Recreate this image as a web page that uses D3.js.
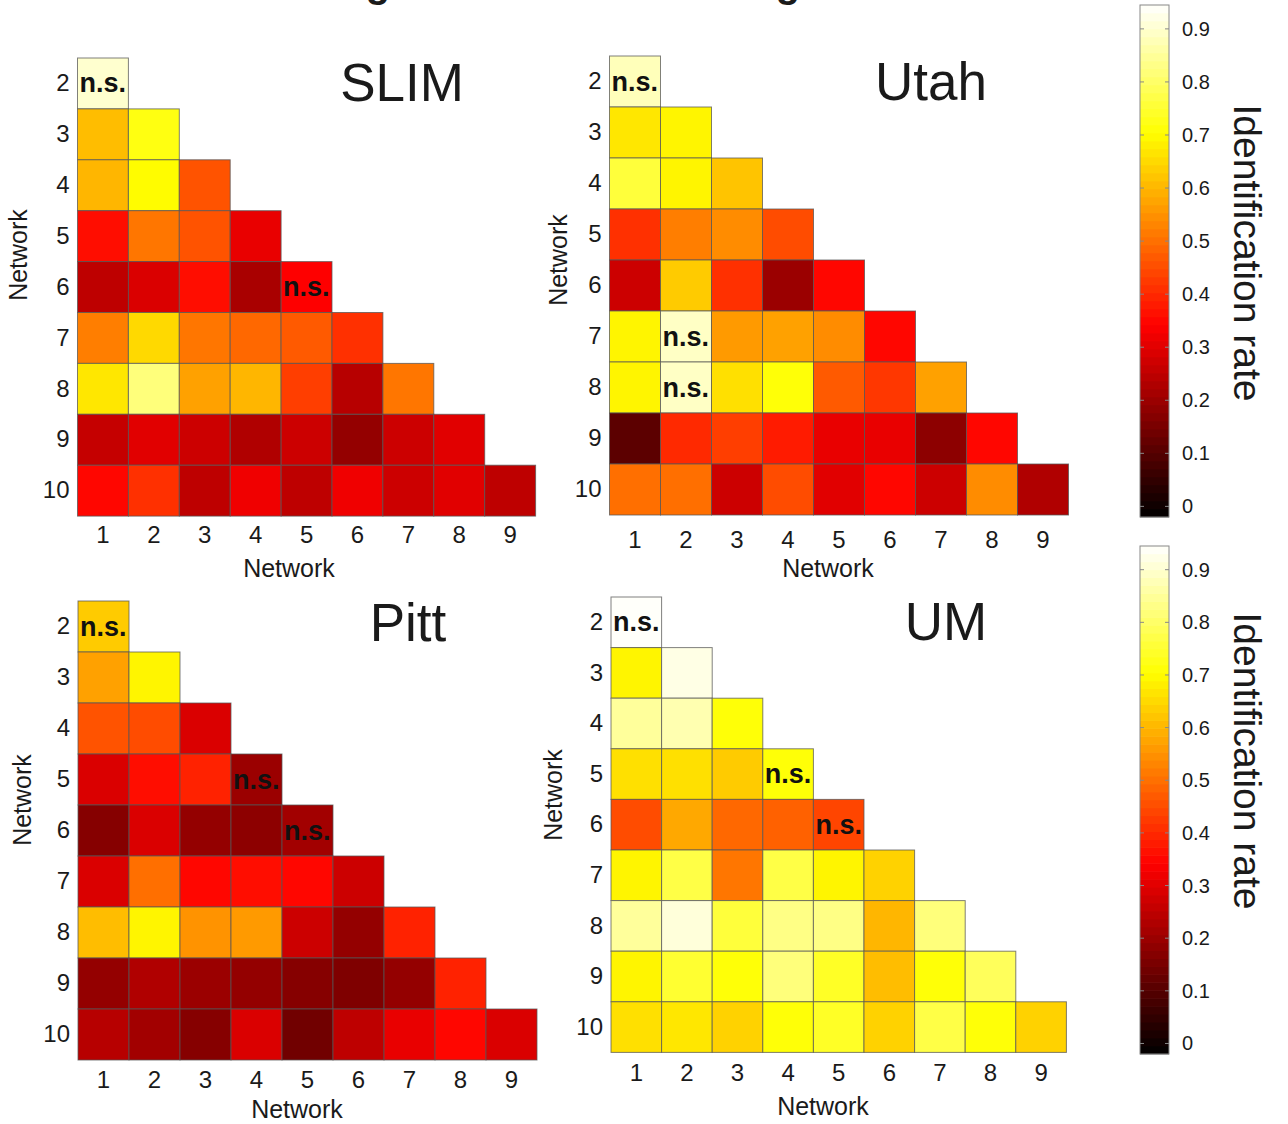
<!DOCTYPE html>
<html>
<head>
<meta charset="utf-8">
<script src="https://cdn.jsdelivr.net/npm/d3@7"></script>
<style>
body{margin:0;background:#fff}
svg text{font-family:"Liberation Sans",Arial,Helvetica,sans-serif;fill:#1a1a1a}
</style>
</head>
<body>
<svg id="chart" width="1288" height="1124"></svg>
<script>
// networks on the axes
const rowNets = [2,3,4,5,6,7,8,9,10]
const colNets = [1,2,3,4,5,6,7,8,9]
const cbTicks = [0,0.1,0.2,0.3,0.4,0.5,0.6,0.7,0.8,0.9]

// identification rate, lower triangle, one array per row (row net 2..10)
const slimVals = [
  [0.90],
  [0.61,0.72],
  [0.60,0.70,0.46],
  [0.36,0.51,0.46,0.31],
  [0.25,0.29,0.36,0.22,0.34],
  [0.52,0.65,0.51,0.49,0.47,0.41],
  [0.67,0.82,0.57,0.60,0.43,0.24,0.51],
  [0.26,0.30,0.27,0.23,0.27,0.19,0.27,0.30],
  [0.35,0.41,0.25,0.32,0.25,0.32,0.27,0.30,0.25]
]
const utahVals = [
  [0.88],
  [0.67,0.69],
  [0.76,0.69,0.62],
  [0.41,0.52,0.54,0.45],
  [0.27,0.63,0.41,0.20,0.35],
  [0.69,0.89,0.56,0.57,0.54,0.35],
  [0.69,0.89,0.66,0.71,0.47,0.42,0.57],
  [0.11,0.40,0.43,0.38,0.31,0.31,0.18,0.35],
  [0.50,0.50,0.27,0.45,0.30,0.35,0.27,0.54,0.23]
]
const pittVals = [
  [0.63],
  [0.57,0.69],
  [0.46,0.45,0.29],
  [0.29,0.36,0.39,0.20],
  [0.17,0.29,0.19,0.18,0.21],
  [0.29,0.50,0.35,0.36,0.35,0.27],
  [0.61,0.69,0.55,0.56,0.27,0.19,0.39],
  [0.19,0.23,0.20,0.19,0.17,0.16,0.19,0.39],
  [0.24,0.21,0.17,0.29,0.14,0.25,0.31,0.35,0.29]
]
const umVals = [
  [0.94],
  [0.69,0.92],
  [0.85,0.87,0.71],
  [0.66,0.66,0.63,0.71],
  [0.45,0.58,0.49,0.48,0.44],
  [0.69,0.77,0.51,0.77,0.69,0.64],
  [0.85,0.91,0.76,0.83,0.83,0.60,0.82],
  [0.69,0.75,0.71,0.82,0.74,0.61,0.71,0.79],
  [0.66,0.67,0.64,0.71,0.74,0.64,0.77,0.71,0.64]
]
// not significant cells [row net, col net]
const slimNs = [[2,1],[6,5]]
const utahNs = [[2,1],[7,2],[8,2]]
const pittNs = [[2,1],[5,4],[6,5]]
const umNs = [[2,1],[5,4],[6,5]]

const panels = [
  {name:"SLIM", vals:slimVals, ns:slimNs, left:77.5, top:58, size:50.9,
   title:[402,101], xlab:[289,577], ylab:[27,255], tickPad:10},
  {name:"Utah", vals:utahVals, ns:utahNs, left:609.5, top:56, size:51,
   title:[931,100], xlab:[828,577], ylab:[567,260], tickPad:16},
  {name:"Pitt", vals:pittVals, ns:pittNs, left:78, top:601, size:51,
   title:[408,641], xlab:[297,1118], ylab:[31,800], tickPad:11},
  {name:"UM", vals:umVals, ns:umNs, left:611, top:597, size:50.6,
   title:[946,640], xlab:[823,1115], ylab:[562,795], tickPad:12}
]

// matlab "hot"
const cmin = -0.02, cmax = 0.945
const hot = d3.scaleLinear()
  .domain([0, 3/8, 3/4, 1].map(t => cmin + t*(cmax-cmin)))
  .range(["#000000","#ff0000","#ffff00","#ffffff"])
  .interpolate(d3.interpolateRgb)
  .clamp(true)

const svg = d3.select("#chart")

// cut-off headline at the very top
svg.selectAll(".cut").data([378,788]).enter().append("text")
  .attr("x", d => d).attr("y", -3).attr("text-anchor","middle")
  .style("font-size","40px").style("font-weight","bold").text("g")

panels.forEach(function(p){
  var x = d3.scaleBand().domain(colNets).range([p.left, p.left + 9*p.size])
  var y = d3.scaleBand().domain(rowNets).range([p.top, p.top + 9*p.size])
  var cells = []
  p.vals.forEach(function(row, i){
    row.forEach(function(v, j){ cells.push({r: rowNets[i], c: colNets[j], v: v}) })
  })
  var g = svg.append("g")
  g.selectAll("rect").data(cells).enter().append("rect")
    .attr("x", d => x(d.c)).attr("y", d => y(d.r))
    .attr("width", x.bandwidth()).attr("height", y.bandwidth())
    .attr("fill", d => hot(d.v))
    .attr("stroke", "#555").attr("stroke-opacity", 0.75).attr("stroke-width", 1)

  g.selectAll(".ns").data(p.ns).enter().append("text")
    .attr("x", d => x(d[1]) + 2).attr("y", d => y(d[0]) + y.bandwidth()/2 + 9)
    .style("font-size","27px").style("font-weight","bold").style("fill","#111")
    .text("n.s.")

  // axes
  var ax = g.append("g").attr("transform", "translate(0," + (p.top + 9*p.size) + ")")
    .call(d3.axisBottom(x).tickSize(0).tickPadding(p.tickPad))
  var ay = g.append("g").attr("transform", "translate(" + p.left + ",0)")
    .call(d3.axisLeft(y).tickSize(0).tickPadding(8))
  ;[ax, ay].forEach(function(a){
    a.select(".domain").remove()
    a.selectAll("text").style("font-size","24px").style("fill","#1a1a1a")
      .attr("font-family", null)
  })

  g.append("text").attr("x", p.title[0]).attr("y", p.title[1])
    .attr("text-anchor","middle").style("font-size","53px").text(p.name)
  g.append("text").attr("x", p.xlab[0]).attr("y", p.xlab[1])
    .attr("text-anchor","middle").style("font-size","25px").text("Network")
  g.append("text")
    .attr("transform", "translate(" + p.ylab[0] + "," + p.ylab[1] + ") rotate(-90)")
    .attr("text-anchor","middle").style("font-size","25px").text("Network")
})

// colour bars
;[{top:5, bottom:517, mid:253}, {top:546, bottom:1054, mid:761}].forEach(function(cb){
  var bx = 1140, bw = 29
  var s = d3.scaleLinear().domain([cmin, cmax]).range([cb.bottom, cb.top])
  var n = 64
  var bands = d3.range(n).map(i => cmin + (i + 0.5)*(cmax - cmin)/n)
  var g = svg.append("g")
  var step = (cb.bottom - cb.top)/n
  g.selectAll("rect").data(bands).enter().append("rect")
    .attr("x", bx).attr("width", bw)
    .attr("y", d => s(d) - step/2 - 0.3).attr("height", step + 0.6)
    .attr("fill", d => hot(d))
  g.append("rect").attr("x", bx).attr("y", cb.top).attr("width", bw)
    .attr("height", cb.bottom - cb.top).attr("fill","none")
    .attr("stroke","#888").attr("stroke-width",1)
  g.selectAll(".tl").data(cbTicks).enter().append("line")
    .attr("x1", bx).attr("x2", bx + 4).attr("y1", d => s(d)).attr("y2", d => s(d))
    .attr("stroke","#888")
  g.selectAll(".tr").data(cbTicks).enter().append("line")
    .attr("x1", bx + bw - 4).attr("x2", bx + bw).attr("y1", d => s(d)).attr("y2", d => s(d))
    .attr("stroke","#888")
  g.selectAll(".lab").data(cbTicks).enter().append("text")
    .attr("x", 1182).attr("y", d => s(d) + 7)
    .style("font-size","20px").text(d => d === 0 ? "0" : d3.format(".1f")(d))
  g.append("text")
    .attr("transform", "translate(1234," + cb.mid + ") rotate(90)")
    .attr("text-anchor","middle").style("font-size","39px").text("Identification rate")
})
</script>
</body>
</html>
